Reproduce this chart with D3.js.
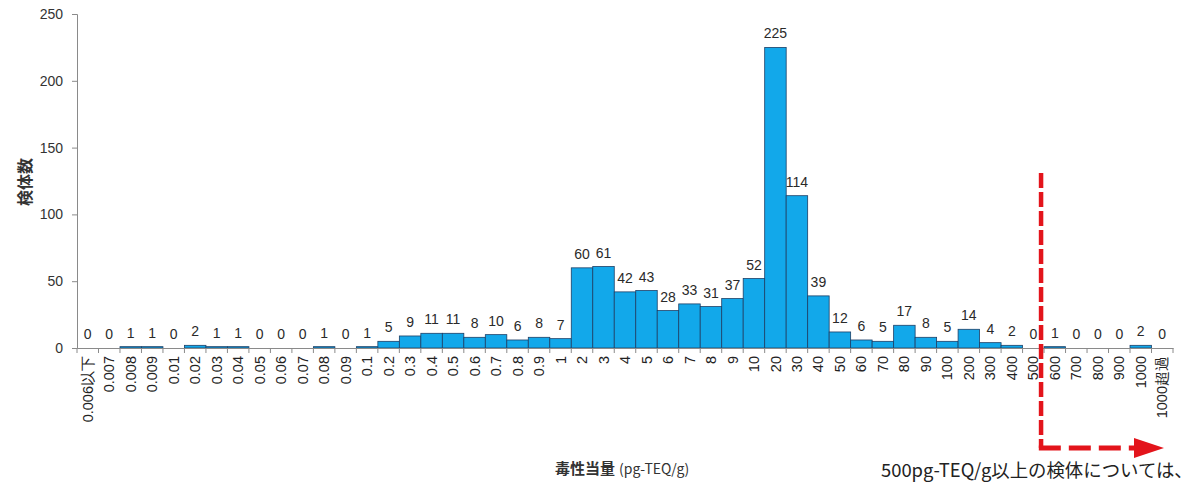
<!DOCTYPE html>
<html>
<head>
<meta charset="utf-8">
<script src="https://cdn.jsdelivr.net/npm/d3@7"></script>
<style>
  html, body { margin: 0; padding: 0; background: #fff; }
  svg { display: block; font-family: "Liberation Sans", "Noto Sans CJK JP", sans-serif; }
</style>
</head>
<body>
<svg id="chart" width="1196" height="484"></svg>
<script>
const categories = ["0.006以下","0.007","0.008","0.009","0.01","0.02","0.03","0.04","0.05","0.06","0.07","0.08","0.09",
  "0.1","0.2","0.3","0.4","0.5","0.6","0.7","0.8","0.9",
  "1","2","3","4","5","6","7","8","9",
  "10","20","30","40","50","60","70","80","90",
  "100","200","300","400","500","600","700","800","900",
  "1000","1000超過"];
const counts = [0,0,1,1,0,2,1,1,0,0,0,1,0,
  1,5,9,11,11,8,10,6,8,
  7,60,61,42,43,28,33,31,37,
  52,225,114,39,12,6,5,17,8,
  5,14,4,2,0,1,0,0,0,
  2,0];
const yTicks = [0,50,100,150,200,250];
const yTitle = "検体数";
const xTitleMain = "毒性当量";
const xTitleUnit = "(pg-TEQ/g)";
const noteText = "500pg-TEQ/g以上の検体については、";
const markerCategory = "600";

const svg = d3.select("#chart");
const plotL = 77, plotR = 1173, plotT = 14, plotB = 348;

const x = d3.scaleBand().domain(categories).range([plotL, plotR]).padding(0);
const y = d3.scaleLinear().domain([0, 250]).range([plotB, plotT]);

// bars
svg.append("g").selectAll("rect").data(categories).join("rect")
  .attr("x", d => x(d))
  .attr("y", (d, i) => y(counts[i]))
  .attr("width", x.bandwidth())
  .attr("height", (d, i) => plotB - y(counts[i]))
  .attr("fill", "#12A8EA")
  .attr("stroke", "#1d3f66")
  .attr("stroke-width", 0.8);

// value labels
svg.append("g").selectAll("text").data(categories).join("text")
  .attr("x", d => x(d) + x.bandwidth() / 2)
  .attr("y", (d, i) => y(counts[i]) - 9)
  .attr("text-anchor", "middle")
  .attr("font-size", 14)
  .attr("fill", "#2a2a2a")
  .text((d, i) => counts[i]);

// y axis
const yAxis = svg.append("g").attr("transform", `translate(${plotL},0)`)
  .call(d3.axisLeft(y).tickValues(yTicks).tickSize(5).tickPadding(9));
yAxis.select(".domain").attr("stroke", "#8a8a8a");
yAxis.selectAll(".tick line").attr("stroke", "#8a8a8a");
yAxis.selectAll("text").attr("font-size", 14).attr("fill", "#333")
  .attr("font-family", "Liberation Sans, sans-serif");

// x axis
const xAxis = svg.append("g").attr("transform", `translate(0,${plotB})`)
  .call(d3.axisBottom(x).tickSize(0).tickPadding(0));
xAxis.select(".domain").attr("stroke", "#8a8a8a");
xAxis.selectAll(".tick text")
  .attr("font-size", 14.5).attr("fill", "#222")
  .attr("transform", "rotate(-90)")
  .attr("text-anchor", "end")
  .attr("dy", "0.35em")
  .attr("x", -8)
  .attr("y", 0);
// boundary ticks
svg.append("g").selectAll("line").data(categories.concat(["__end"])).join("line")
  .attr("x1", (d, i) => plotL + i * x.bandwidth())
  .attr("x2", (d, i) => plotL + i * x.bandwidth())
  .attr("y1", plotB).attr("y2", plotB + 5)
  .attr("stroke", "#8a8a8a");

// y title
svg.append("text")
  .attr("transform", "translate(31,182) rotate(-90)")
  .attr("text-anchor", "middle")
  .attr("font-size", 16).attr("font-weight", "bold").attr("fill", "#333")
  .attr("font-family", "Noto Sans CJK JP, sans-serif")
  .text(yTitle);

// x title
const xt = svg.append("text").attr("x", 555).attr("y", 474)
  .attr("fill", "#333").attr("font-family", "Noto Sans CJK JP, sans-serif");
xt.append("tspan").attr("font-size", 15).attr("font-weight", "bold").text(xTitleMain);
xt.append("tspan").attr("font-size", 14).attr("dx", 4).text(xTitleUnit);

// red dashed marker
const mx = x(markerCategory) - 3;
const hy = 448;
svg.append("line").attr("x1", mx).attr("x2", mx).attr("y1", 173).attr("y2", hy)
  .attr("stroke", "#e3141b").attr("stroke-width", 4.5).attr("stroke-dasharray", "15,4");
svg.append("line").attr("x1", mx - 2.25).attr("x2", 1136).attr("y1", hy).attr("y2", hy)
  .attr("stroke", "#e3141b").attr("stroke-width", 5).attr("stroke-dasharray", "22,8");
svg.append("path")
  .attr("d", `M1134,${hy - 10} L1164,${hy} L1134,${hy + 10} Z`)
  .attr("fill", "#e3141b");

// note
svg.append("text").attr("x", 881).attr("y", 477)
  .attr("font-size", 18.4).attr("fill", "#222")
  .attr("font-family", "Noto Sans CJK JP, sans-serif")
  .text(noteText);
</script>
</body>
</html>
